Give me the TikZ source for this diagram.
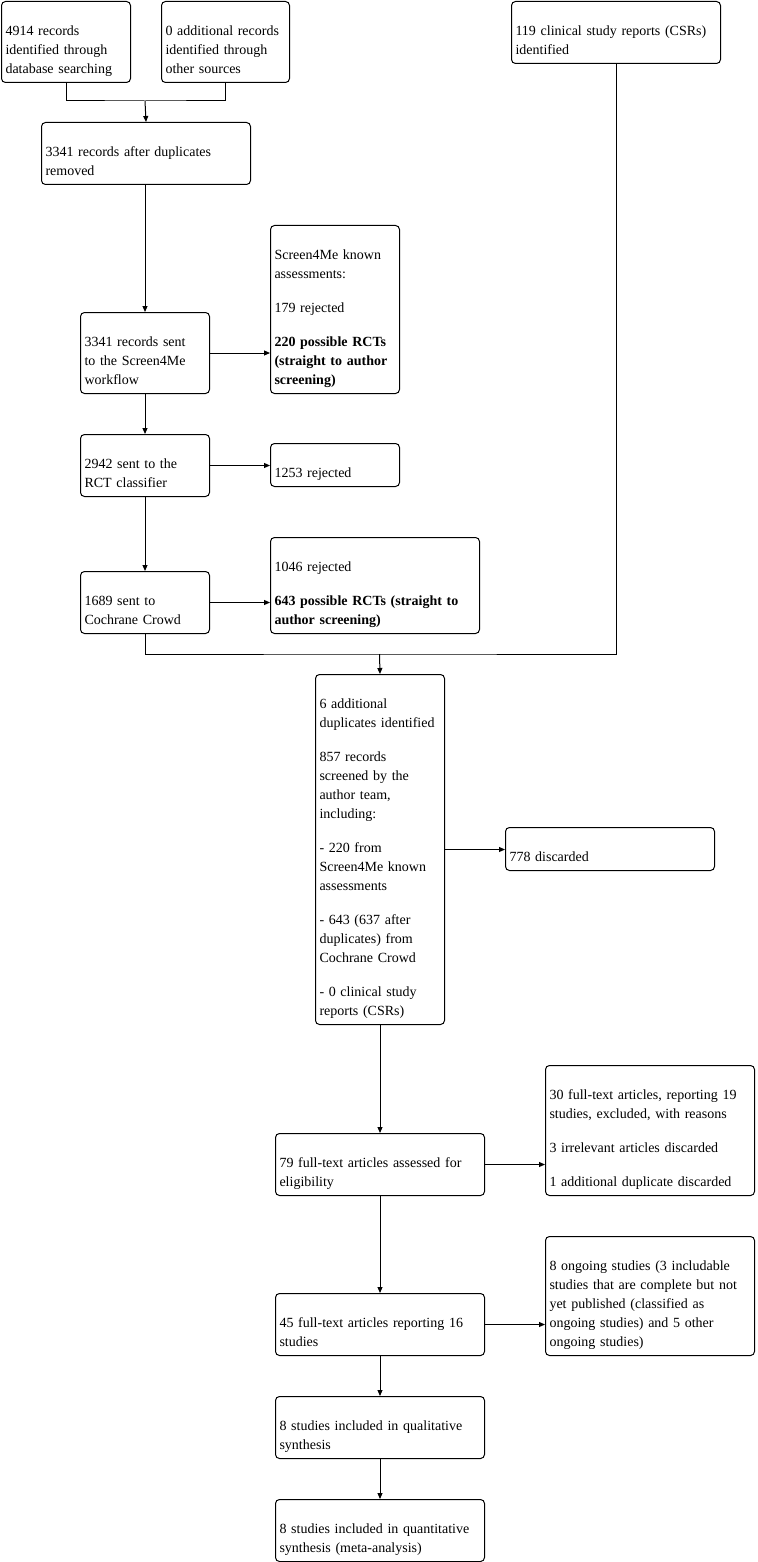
\documentclass[tikz,border=0pt]{standalone}
\usepackage{fontspec}
\setmainfont{Liberation Serif}
\usetikzlibrary{arrows.meta}

\begin{document}
\begin{tikzpicture}[x=1pt,y=-1pt,line width=1pt,>={Triangle[length=6pt,width=5pt]},
  box node/.style={draw,rounded corners=4pt,anchor=north west,align=left,
    inner xsep=4pt,inner ysep=0pt,font=\fontsize{14}{19}\selectfont,
    execute at begin node={\rule{0pt}{34pt}},
    execute at end node={\rule[-9pt]{0pt}{9pt}}},
  narrow node/.style={box node,text width=121pt},
  wide node/.style={box node,text width=201pt}]

  \useasboundingbox (0,0) rectangle (757,1562);

  % identification
  \node[narrow node] (db) at (1,1) {4914 records\\identified through\\database searching};
  \node[narrow node,text width=120pt] (other) at (161,1) {0 additional records\\identified through\\other sources};
  \node[wide node] (csr) at (511,1) {119 clinical study reports (CSRs)\\identified};
  \node[wide node] (dedup) at (41,122) {3341 records after duplicates\\removed};

  % Screen4Me
  \node[narrow node] (known) at (270,225) {Screen4Me known\\assessments:\\[15pt]179 rejected\\[15pt]\textbf{220 possible RCTs}\\\textbf{(straight to author}\\\textbf{screening)}};
  \node[narrow node] (sent) at (80,312) {3341 records sent\\to the Screen4Me\\workflow};
  \node[narrow node] (classif) at (80,434) {2942 sent to the\\RCT classifier};
  \node[narrow node] (rctrej) at (270,443) {1253 rejected};
  \node[narrow node] (crowd) at (80,571) {1689 sent to\\Cochrane Crowd};
  \node[wide node] (crowdrej) at (270,537) {1046 rejected\\[15pt]\textbf{643 possible RCTs (straight to}\\\textbf{author screening)}};

  % screening
  \node[narrow node] (screened) at (315,674) {6 additional\\duplicates identified\\[15pt]857 records\\screened by the\\author team,\\including:\\[15pt]- 220 from\\Screen4Me known\\assessments\\[15pt]- 643 (637 after\\duplicates) from\\Cochrane Crowd\\[15pt]- 0 clinical study\\reports (CSRs)};
  \node[wide node] (discard) at (505,827) {778 discarded};

  % eligibility and inclusion
  \node[wide node] (fulltext) at (275,1133) {79 full-text articles assessed for\\eligibility};
  \node[wide node] (excluded) at (545,1065) {30 full-text articles, reporting 19\\studies, excluded, with reasons\\[15pt]3 irrelevant articles discarded\\[15pt]1 additional duplicate discarded};
  \node[wide node] (reporting) at (275,1293) {45 full-text articles reporting 16\\studies};
  \node[wide node] (ongoing) at (545,1236) {8 ongoing studies (3 includable\\studies that are complete but not\\yet published (classified as\\ongoing studies) and 5 other\\ongoing studies)};
  \node[wide node] (quali) at (275,1396) {8 studies included in qualitative\\synthesis};
  \node[wide node] (quanti) at (275,1499) {8 studies included in quantitative\\synthesis (meta-analysis)};

  \coordinate (abjoin) at (145,101);
  \coordinate (crowdjoin) at (379.5,654);

  \draw (db.south) |- (abjoin) -| (other.south);
  \draw[->] (abjoin) -- (dedup.north);
  \draw[->] (sent.north |- dedup.south) -- (sent.north);
  \draw[->] (sent.east) -- (sent.east -| known.west);
  \draw[->] (sent.south) -- (classif.north);
  \draw[->] (classif.east) -- (classif.east -| rctrej.west);
  \draw[->] (classif.south) -- (crowd.north);
  \draw[->] (crowd.east) -- (crowd.east -| crowdrej.west);
  \draw (crowd.south) |- (crowdjoin) -| (csr.south);
  \draw[->] (crowdjoin) -- (screened.north);
  \draw[->] (screened.east) -- (screened.east -| discard.west);
  \draw[->] (screened.south) -- (fulltext.north);
  \draw[->] (fulltext.east) -- (fulltext.east -| excluded.west);
  \draw[->] (fulltext.south) -- (reporting.north);
  \draw[->] (reporting.east) -- (reporting.east -| ongoing.west);
  \draw[->] (reporting.south) -- (quali.north);
  \draw[->] (quali.south) -- (quanti.north);

\end{tikzpicture}
\end{document}
